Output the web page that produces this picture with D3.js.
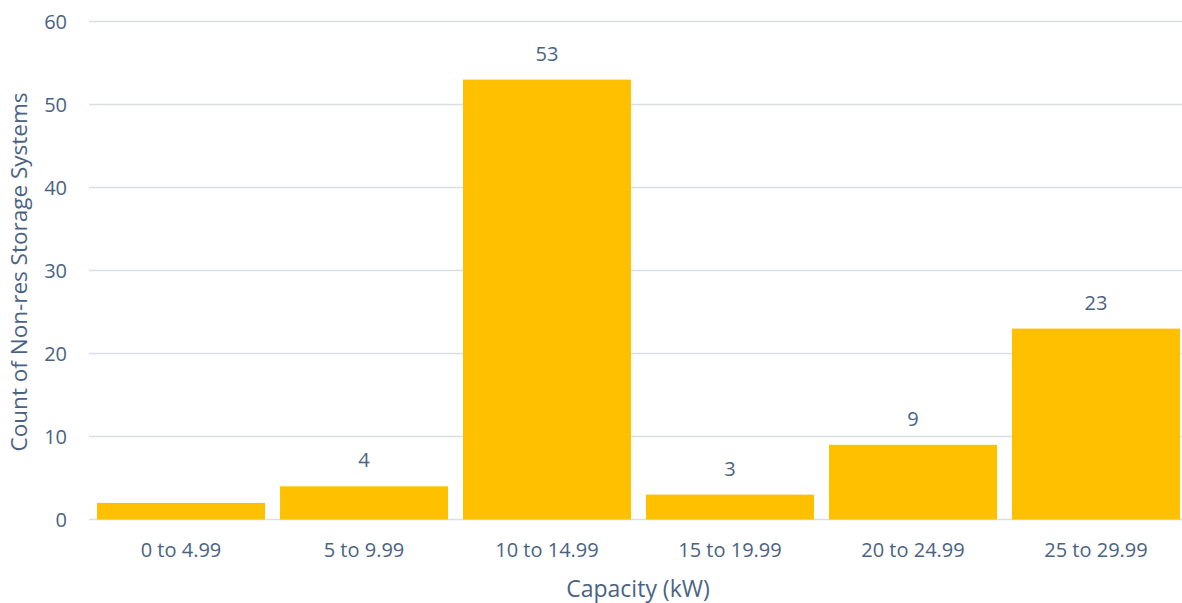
<!DOCTYPE html>
<html>
<head>
<meta charset="utf-8">
<script src="https://cdn.jsdelivr.net/npm/d3@7"></script>
<style>
  body { margin: 0; background: #fff; }
  text { font-family: "Open Sans", sans-serif; fill: #4a6384; }
</style>
</head>
<body>
<div id="chart"></div>
<script>
//data
var categories = ["0 to 4.99", "5 to 9.99", "10 to 14.99", "15 to 19.99", "20 to 24.99", "25 to 29.99"];
var counts = [2, 4, 53, 3, 9, 23];
var showLabel = [false, true, true, true, true, true];
var yTicks = [0, 10, 20, 30, 40, 50, 60];

//setup
var width = 1182,
    height = 603;

var x = d3.scaleBand()
    .domain(categories)
    .range([89.5, 1187.5])
    .paddingInner(0.082)
    .paddingOuter(0.041);

var y = d3.scaleLinear()
    .domain([0, 60])
    .range([519.5, 21.5]);

var svg = d3.select("#chart").append("svg")
    .attr("width", width)
    .attr("height", height);

var rows = categories.map(function (c, i) {
    return { cat: c, value: counts[i], label: showLabel[i] };
});

//gridlines
svg.append("g")
    .selectAll("line").data(yTicks)
    .enter().append("line")
    .attr("x1", 89)
    .attr("x2", width)
    .attr("y1", function (d) { return y(d); })
    .attr("y2", function (d) { return y(d); })
    .style("stroke", "#d9dfe8")
    .style("stroke-width", 1.5);

//y tick labels
svg.append("g")
    .selectAll("text").data(yTicks)
    .enter().append("text")
    .attr("x", 67)
    .attr("y", function (d) { return y(d); })
    .attr("dy", "0.35em")
    .attr("text-anchor", "end")
    .style("font-size", "20px")
    .text(function (d) { return d; });

//bars
svg.append("g")
    .selectAll("rect").data(rows)
    .enter().append("rect")
    .attr("x", function (d) { return x(d.cat); })
    .attr("width", x.bandwidth())
    .attr("y", function (d) { return y(d.value); })
    .attr("height", function (d) { return y(0) - y(d.value); })
    .style("fill", "#ffc000");

//value labels
svg.append("g")
    .selectAll("text").data(rows.filter(function (d) { return d.label; }))
    .enter().append("text")
    .attr("x", function (d) { return x(d.cat) + x.bandwidth() / 2; })
    .attr("y", function (d) { return y(d.value) - 19; })
    .attr("text-anchor", "middle")
    .style("font-size", "20px")
    .text(function (d) { return d.value; });

//x tick labels
svg.append("g")
    .selectAll("text").data(categories)
    .enter().append("text")
    .attr("x", function (d) { return x(d) + x.bandwidth() / 2; })
    .attr("y", 557)
    .attr("text-anchor", "middle")
    .style("font-size", "20px")
    .text(function (d) { return d; });

//axis titles
svg.append("text")
    .attr("x", 638)
    .attr("y", 597)
    .attr("text-anchor", "middle")
    .style("font-size", "23px")
    .text("Capacity (kW)");

svg.append("text")
    .attr("transform", "translate(27,272) rotate(-90)")
    .attr("text-anchor", "middle")
    .style("font-size", "22.5px")
    .text("Count of Non-res Storage Systems");
</script>
</body>
</html>
